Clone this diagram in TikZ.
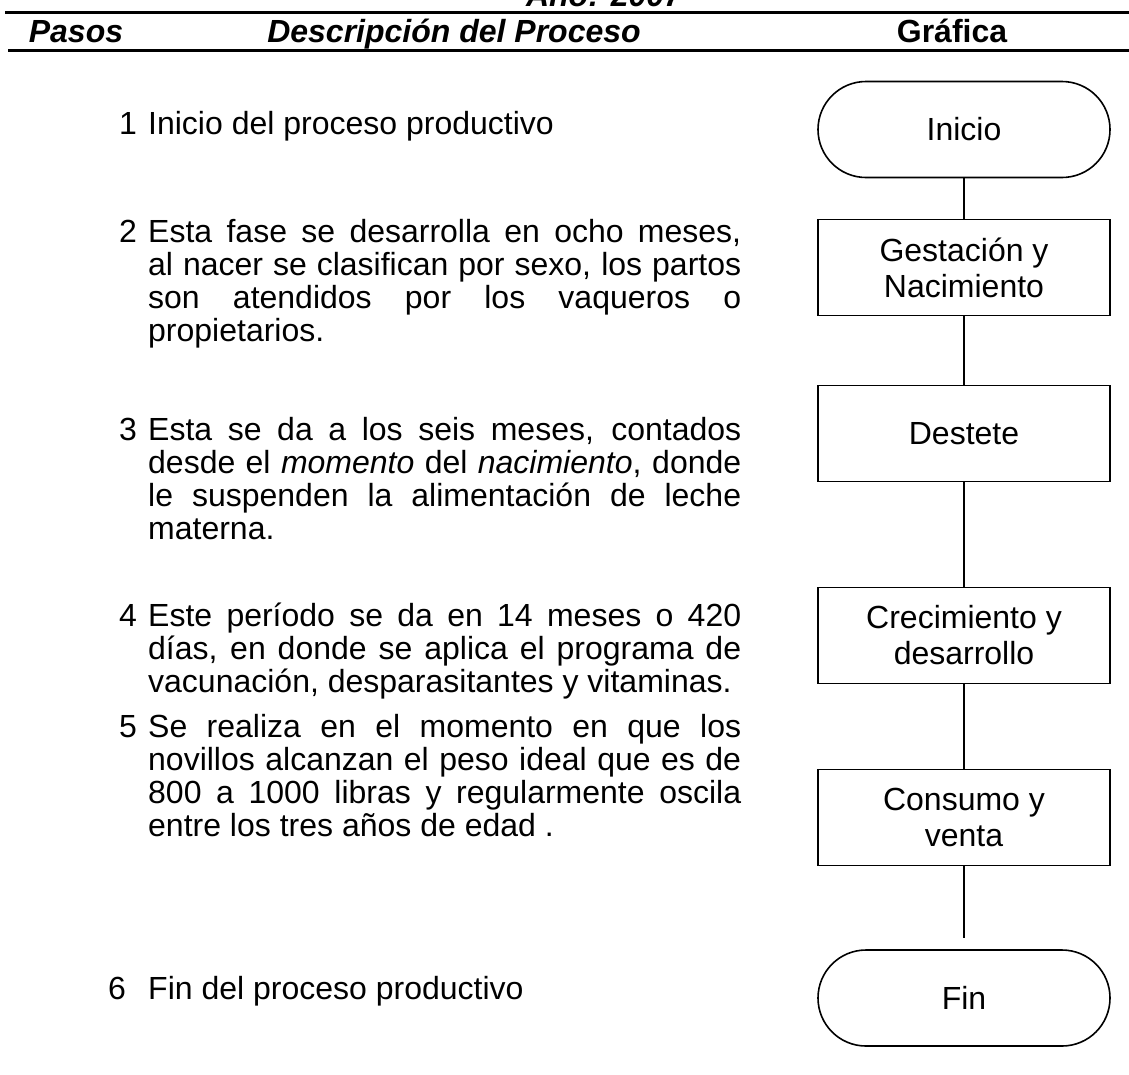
\documentclass[tikz,border=0pt]{standalone}
\usepackage{fontspec}
\setmainfont{Liberation Sans}
\usetikzlibrary{shapes.misc}
\newcommand\justline[1]{\makebox[593pt][s]{#1}}
\begin{document}
\begin{tikzpicture}[x=1pt,y=-1pt,
  body/.style={anchor=base west,inner sep=0pt,font=\fontsize{32}{33}\selectfont},
  num/.style={anchor=base,inner sep=0pt,font=\fontsize{32}{33}\selectfont},
  head/.style={anchor=base,inner sep=0pt,font=\fontsize{32}{33}\selectfont\bfseries\itshape},
  headup/.style={anchor=base,inner sep=0pt,font=\fontsize{32}{33}\selectfont\bfseries},
  proc/.style={draw,line width=1.6pt,minimum width=292pt,minimum height=96pt,inner sep=0pt,align=center,font=\fontsize{32}{36}\selectfont},
  term/.style={proc,rounded rectangle},
  link/.style={line width=1.4pt},
  rule/.style={line width=3pt}]
\useasboundingbox (0,0) rectangle (1129,1074);
\clip (0,0) rectangle (1129,1074);
\fill[white] (0,0) rectangle (1129,1074);
% header
\node[head] (anio) at (604,6) {Año: 2007};
\draw[rule] (5,12) -- (1129,12);
\node[head] (hpasos) at (76,42) {Pasos};
\node[head] (hdesc) at (454,42) {Descripción del Proceso};
\node[headup] (hgraf) at (952,42) {Gráfica};
\draw[rule] (8,50) -- (1129,50);
% step 1
\node[num] (n1) at (128,134) {1};
\node[body] (t1) at (148,134) {Inicio del proceso productivo};
% step 2
\node[num] (n2) at (128,242) {2};
\node[body] (t2a) at (148,242) {\justline{Esta fase se desarrolla en ocho meses,}};
\node[body] (t2b) at (148,275) {\justline{al nacer se clasifican por sexo, los partos}};
\node[body] (t2c) at (148,308) {\justline{son atendidos por los vaqueros o}};
\node[body] (t2d) at (148,341) {propietarios.};
% step 3
\node[num] (n3) at (128,440) {3};
\node[body] (t3a) at (148,440) {\justline{Esta se da a los seis meses, contados}};
\node[body] (t3b) at (148,473) {\justline{desde el \textit{momento} del \textit{nacimiento}, donde}};
\node[body] (t3c) at (148,506) {\justline{le suspenden la alimentación de leche}};
\node[body] (t3d) at (148,539) {materna.};
% step 4
\node[num] (n4) at (128,626) {4};
\node[body] (t4a) at (148,626) {\justline{Este período se da en 14 meses o 420}};
\node[body] (t4b) at (148,659) {\justline{días, en donde se aplica el programa de}};
\node[body] (t4c) at (148,692) {vacunación, desparasitantes y vitaminas.};
% step 5
\node[num] (n5) at (128,737) {5};
\node[body] (t5a) at (148,737) {\justline{Se realiza en el momento en que los}};
\node[body] (t5b) at (148,770) {\justline{novillos alcanzan el peso ideal que es de}};
\node[body] (t5c) at (148,803) {\justline{800 a 1000 libras y regularmente oscila}};
\node[body] (t5d) at (148,836) {entre los tres años de edad .};
% step 6
\node[num] (n6) at (117,999) {6};
\node[body] (t6) at (148,999) {Fin del proceso productivo};
% flowchart
\node[term] (inicio) at (964,129.5) {Inicio};
\node[proc] (gest) at (964,267.5) {Gestación y\\Nacimiento};
\node[proc] (dest) at (964,433.5) {Destete};
\node[proc] (crec) at (964,635.5) {Crecimiento y\\desarrollo};
\node[proc] (cons) at (964,817.5) {Consumo y\\venta};
\node[term] (fin) at (964,998) {Fin};
\coordinate (finend) at (964,938);
\draw[link] (inicio.south) -- (gest.north);
\draw[link] (gest.south) -- (dest.north);
\draw[link] (dest.south) -- (crec.north);
\draw[link] (crec.south) -- (cons.north);
\draw[link] (cons.south) -- (finend);
\end{tikzpicture}
\end{document}
